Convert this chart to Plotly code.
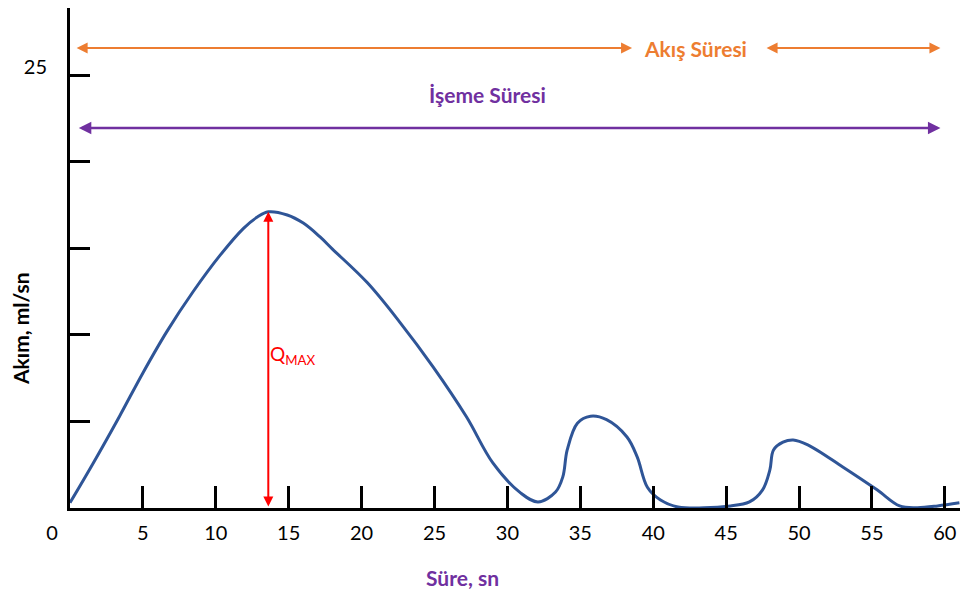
import plotly.graph_objects as go

# ---- data ----
time_s = [0.0, 1.6, 3.4, 5.0, 6.65, 8.45, 10.3, 11.9, 12.85, 13.6, 14.9, 16.0, 17.15, 18.0,
          20.4, 22.6, 24.9, 27.2, 29.0, 30.9, 32.1, 33.3, 33.8, 34.1, 34.8, 35.7, 36.8,
          38.2, 38.9, 39.6, 40.5, 41.7, 45.3, 46.6, 47.5, 48.0, 48.25, 48.9, 49.6, 50.6,
          53.0, 55.35, 56.9, 58.1, 59.5, 61.0]
flow_ml_s = [0.3, 2.6, 5.3, 7.8, 10.2, 12.5, 14.6, 16.15, 16.8, 17.1, 16.92, 16.45, 15.65, 14.95,
             13.0, 10.75, 8.15, 5.25, 2.6, 0.87, 0.35, 0.92, 1.8, 3.35, 4.9, 5.3, 5.1,
             4.1, 2.95, 1.2, 0.46, 0.06, 0.12, 0.35, 1.05, 2.2, 3.35, 3.8, 3.93, 3.65,
             2.37, 1.05, 0.12, 0.02, 0.12, 0.3]

x_tick_vals = [0, 5, 10, 15, 20, 25, 30, 35, 40, 45, 50, 55, 60]
x_tick_labels = ["0", "5", "10", "15", "20", "25", "30", "35", "40", "45", "50", "55", "60"]
y_tick_vals = [25]
y_tick_labels = ["25"]
y_minor_tick_vals = [5, 10, 15, 20]

# interval arrows (seconds) and their heights (ml/sn)
flow_time_left = [0.35, 47.67]
flow_time_right = [38.55, 59.7]
flow_arrow_level = 26.56
void_time = [0.5, 59.7]
void_arrow_level = 21.94

x_range = [0, 61.04]
y_range = [0, 28.87]

ORANGE = "#ED7D31"
PURPLE = "#7030A0"
BLUE = "#2F5597"
RED = "#FF0000"
FONT = "Lato"

fig = go.Figure()
fig.add_trace(go.Scatter(
    x=time_s, y=flow_ml_s, mode="lines",
    line=dict(color=BLUE, width=3, shape="spline", smoothing=1.0),
    hoverinfo="skip", showlegend=False))

# Qmax from data
i_max = max(range(len(flow_ml_s)), key=lambda i: flow_ml_s[i])
q_x, q_y = time_s[i_max], flow_ml_s[i_max]

zero_label = x_tick_labels[0] + "\u00a0" * 7
ticktext_x = [zero_label] + x_tick_labels[1:]

fig.update_layout(
    width=960, height=592,
    margin=dict(l=70, r=0, t=8, b=84),
    paper_bgcolor="white", plot_bgcolor="white",
    font=dict(family=FONT, size=20, color="black"),
    showlegend=False,
    xaxis=dict(range=x_range, showgrid=False, zeroline=False,
               showline=True, linecolor="black", linewidth=3,
               tickmode="array", tickvals=x_tick_vals, ticktext=ticktext_x,
               ticks="inside", ticklen=22, tickwidth=3, tickcolor="black",
               ticklabelstandoff=5, tickfont=dict(size=20, family=FONT)),
    yaxis=dict(range=y_range, showgrid=False, zeroline=False,
               showline=True, linecolor="black", linewidth=3,
               tickmode="array", tickvals=y_tick_vals, ticktext=y_tick_labels,
               ticks="inside", ticklen=20, tickwidth=3, tickcolor="black",
               ticklabelstandoff=16, ticklabelshift=-8,
               tickfont=dict(size=20, family=FONT),
               minor=dict(tickmode="array", tickvals=y_minor_tick_vals,
                          ticks="inside", ticklen=20, tickwidth=3,
                          tickcolor="black", showgrid=False)),
)

annotations = []
# orange flow-time arrows
for a, b in zip(flow_time_left, flow_time_right):
    annotations.append(dict(x=b, y=flow_arrow_level, ax=a, ay=flow_arrow_level,
                            xref="x", yref="y", axref="x", ayref="y", text="",
                            showarrow=True, arrowhead=2, startarrowhead=2,
                            arrowside="end+start", arrowsize=1, startarrowsize=1,
                            arrowwidth=2.2, arrowcolor=ORANGE))
annotations.append(dict(x=42.87, y=flow_arrow_level, xref="x", yref="y",
                        xanchor="center", yanchor="middle",
                        text="<b>Akış Süresi</b>", showarrow=False,
                        font=dict(color=ORANGE, size=21, family=FONT)))
# purple voiding-time arrow
annotations.append(dict(x=void_time[1], y=void_arrow_level, ax=void_time[0], ay=void_arrow_level,
                        xref="x", yref="y", axref="x", ayref="y", text="",
                        showarrow=True, arrowhead=2, startarrowhead=2,
                        arrowside="end+start", arrowsize=1, startarrowsize=1,
                        arrowwidth=2.5, arrowcolor=PURPLE))
annotations.append(dict(x=28.6, y=23.85, xref="x", yref="y",
                        xanchor="center", yanchor="middle",
                        text="<b>İşeme Süresi</b>", showarrow=False,
                        font=dict(color=PURPLE, size=21, family=FONT)))
# Qmax arrow
annotations.append(dict(x=q_x, y=q_y, ax=q_x, ay=0, xref="x", yref="y",
                        axref="x", ayref="y", text="", showarrow=True,
                        arrowhead=2, startarrowhead=2, arrowside="end+start",
                        arrowsize=1, startarrowsize=1, arrowwidth=2, arrowcolor=RED))
annotations.append(dict(x=q_x, y=q_y * 0.515, xref="x", yref="y", xanchor="left",
                        yanchor="middle", xshift=0, text="Q<sub>MAX</sub>", showarrow=False,
                        font=dict(color=RED, size=19, family=FONT)))

# axis titles positioned in pixels relative to the plot area
plot_w = 960 - 70 - 0
plot_h = 592 - 8 - 84
annotations.append(dict(x=(20 - 70) / plot_w, y=(508 - 329) / plot_h,
                        xref="paper", yref="paper", xanchor="center", yanchor="middle",
                        text="<b>Akım, ml/sn</b>", textangle=-90, showarrow=False,
                        font=dict(color="black", size=21, family=FONT)))
annotations.append(dict(x=(462 - 70) / plot_w, y=(508 - 577) / plot_h,
                        xref="paper", yref="paper", xanchor="center", yanchor="middle",
                        text="<b>Süre, sn</b>", showarrow=False,
                        font=dict(color=PURPLE, size=21, family=FONT)))
fig.update_layout(annotations=annotations)

fig.write_html("out.html")
